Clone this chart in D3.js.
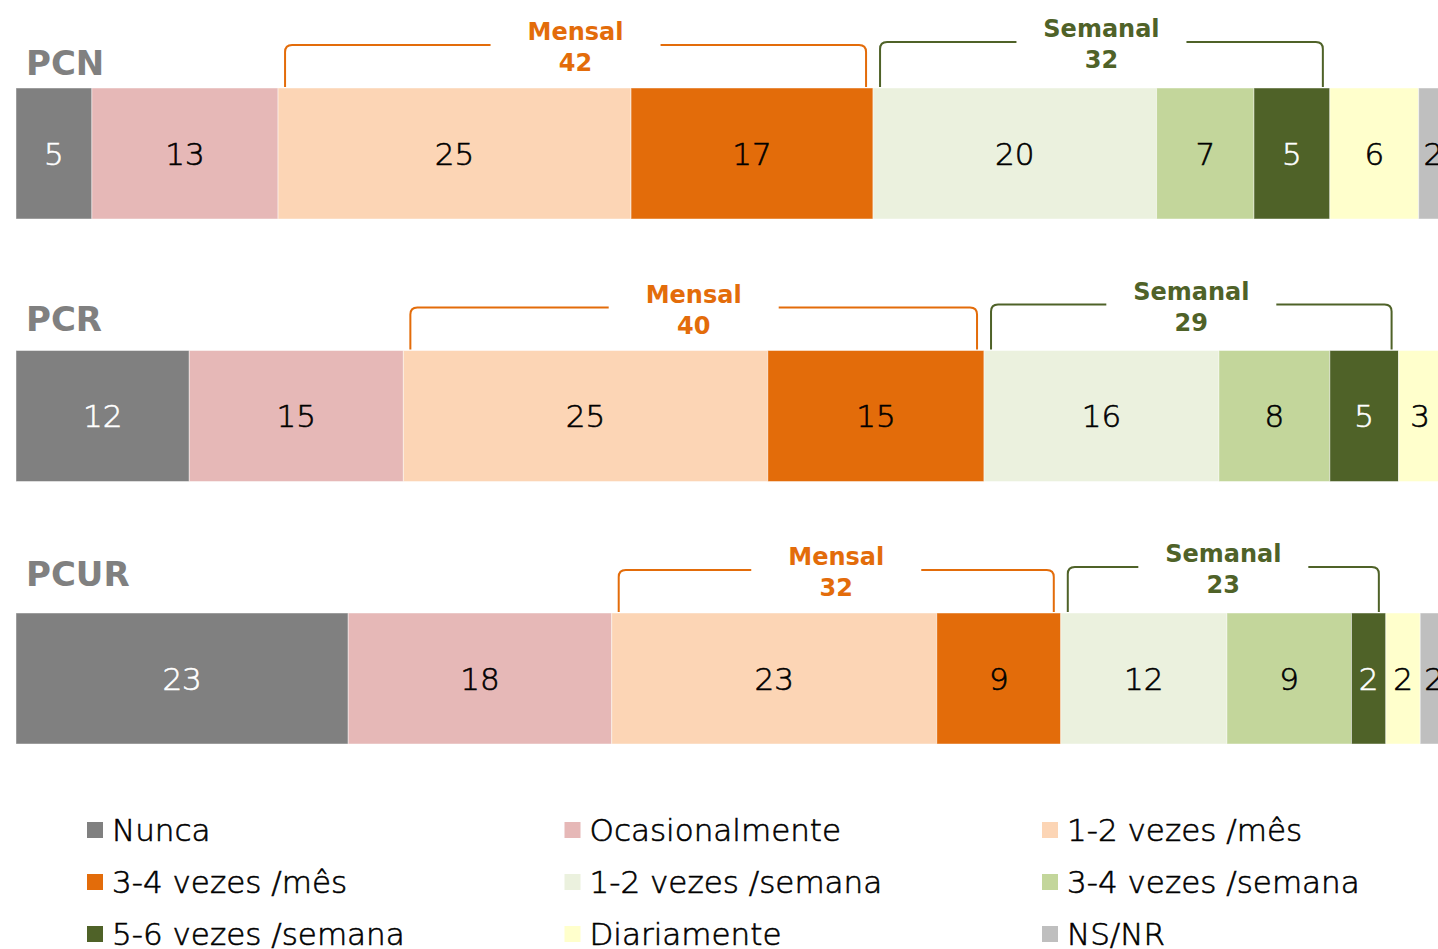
<!DOCTYPE html>
<html>
<head>
<meta charset="utf-8">
<script src="https://cdn.jsdelivr.net/npm/d3@7"></script>
<style>
  body { margin: 0; background: #fff; }
  svg { display: block; font-family: "DejaVu Sans", sans-serif; }
  .thin { font-weight: 300; stroke-width: 0.6px; }
</style>
</head>
<body>
<svg width="1438" height="949"></svg>
<script>
// categories (stack order) and their colours
var categories = ["Nunca", "Ocasionalmente", "1-2 vezes /mês", "3-4 vezes /mês",
  "1-2 vezes /semana", "3-4 vezes /semana", "5-6 vezes /semana", "Diariamente", "NS/NR"];
var colours = ["#808080", "#E6B8B7", "#FCD5B5", "#E36C0A",
  "#EBF1DE", "#C3D69B", "#4F6228", "#FFFFCC", "#BFBFBF"];

var groups = ["PCN", "PCR", "PCUR"];

// percentages
var pcnValues  = [5.3, 13.0, 24.65, 16.9, 19.8, 6.8, 5.3, 6.2, 2.05];
var pcrValues  = [12.1, 14.95, 25.45, 15.1, 16.4, 7.75, 4.8, 3.0, 0.45];
var pcurValues = [23.2, 18.4, 22.7, 8.66, 11.6, 8.7, 2.4, 2.4, 1.94];

// bracket totals printed above the bars
var mensalTotals  = [42, 40, 32];
var semanalTotals = [32, 29, 23];

var allValues = [pcnValues, pcrValues, pcurValues];

var svg = d3.select("svg"),
    width = +svg.attr("width"),
    height = +svg.attr("height");

var x = d3.scaleLinear().domain([0, 100]).range([16, 1448]);
var y = d3.scaleBand().domain(groups).range([88, 744]).paddingInner(0.501);
// titles sit a little closer together than the bars
var titleY = d3.scalePoint().domain(groups).range([75, 586]);

var rows = groups.map(function(g, i) {
  var acc = 0;
  var segs = allValues[i].map(function(v, j) {
    var s = { group: g, cat: categories[j], idx: j, x0: acc, x1: acc + v, value: v };
    acc += v;
    return s;
  });
  return { group: g, segs: segs, i: i };
});

var darkText = { 0: true, 6: true };

var row = svg.selectAll(".row")
  .data(rows)
  .enter().append("g")
  .attr("class", "row");

// group titles
row.append("text")
  .attr("x", 26)
  .attr("y", d => titleY(d.group))
  .attr("fill", "#808080")
  .style("font-weight", "bold")
  .style("font-size", "34px")
  .text(d => d.group);

// stacked segments
row.selectAll("rect.seg")
  .data(d => d.segs)
  .enter().append("rect")
  .attr("class", "seg")
  .attr("x", d => x(d.x0))
  .attr("y", d => y(d.group))
  .attr("width", d => x(d.x1) - x(d.x0))
  .attr("height", y.bandwidth())
  .attr("fill", d => colours[d.idx])
  .attr("stroke", "#fff")
  .attr("stroke-opacity", 0.45)
  .attr("stroke-width", 1);

row.selectAll("text.val")
  .data(d => d.segs.filter(s => s.value >= 0.5))
  .enter().append("text")
  .attr("class", "val thin")
  .attr("x", d => (x(d.x0) + x(d.x1)) / 2)
  .attr("y", d => y(d.group) + y.bandwidth() / 2)
  .attr("dy", "0.36em")
  .attr("text-anchor", "middle")
  .style("font-size", "31px")
  .attr("fill", d => darkText[d.idx] ? "#fff" : "#000")
  .attr("stroke", d => darkText[d.idx] ? "#fff" : "#000")
  .text(d => d3.format(".0f")(d.value));

// brackets for Mensal (cats 2-3) and Semanal (cats 4-6)
var brackets = [];
rows.forEach(function(r) {
  brackets.push({ group: r.group, name: "Mensal", total: mensalTotals[r.i],
    from: r.segs[2].x0, to: r.segs[3].x1, colour: "#E36C0A", rise: 43 });
  brackets.push({ group: r.group, name: "Semanal", total: semanalTotals[r.i],
    from: r.segs[4].x0, to: r.segs[6].x1, colour: "#4F6228", rise: 46 });
});

function bracketPath(d) {
  var l = x(d.from) + 7, rgt = x(d.to) - 7,
      top = y(d.group) - d.rise, bot = y(d.group) - 1, r = 7;
  return "M" + l + "," + bot + " L" + l + "," + (top + r) +
    " Q" + l + "," + top + " " + (l + r) + "," + top +
    " L" + (rgt - r) + "," + top +
    " Q" + rgt + "," + top + " " + rgt + "," + (top + r) +
    " L" + rgt + "," + bot;
}

var br = svg.selectAll(".bracket")
  .data(brackets)
  .enter().append("g")
  .attr("class", "bracket");

br.append("path")
  .attr("d", bracketPath)
  .attr("fill", "none")
  .attr("stroke", d => d.colour)
  .attr("stroke-width", 2);

br.append("rect")
  .attr("x", d => (x(d.from) + x(d.to)) / 2 - 85)
  .attr("y", d => y(d.group) - d.rise - 36)
  .attr("width", 170)
  .attr("height", 76)
  .attr("fill", "#fff");

br.append("text")
  .attr("x", d => (x(d.from) + x(d.to)) / 2)
  .attr("y", d => y(d.group) - d.rise - 5)
  .attr("text-anchor", "middle")
  .attr("fill", d => d.colour)
  .style("font-weight", "bold")
  .style("font-size", "24px")
  .text(d => d.name);

br.append("text")
  .attr("x", d => (x(d.from) + x(d.to)) / 2)
  .attr("y", d => y(d.group) - d.rise + 26)
  .attr("text-anchor", "middle")
  .attr("fill", d => d.colour)
  .style("font-weight", "bold")
  .style("font-size", "24px")
  .text(d => d.total);

// legend, 3 columns
var legendX = d3.scalePoint().domain([0, 1, 2]).range([87, 1042]);
var legendY = d3.scalePoint().domain([0, 1, 2]).range([830, 934]);

var leg = svg.selectAll(".leg")
  .data(categories)
  .enter().append("g")
  .attr("class", "leg")
  .attr("transform", (d, i) => "translate(" + legendX(i % 3) + "," + legendY(Math.floor(i / 3)) + ")");

leg.append("rect")
  .attr("x", 0)
  .attr("y", -8)
  .attr("width", 16)
  .attr("height", 16)
  .attr("fill", (d, i) => colours[i]);

leg.append("text")
  .attr("class", "thin")
  .attr("x", 25)
  .attr("y", 0)
  .attr("dy", "0.36em")
  .style("font-size", "31px")
  .attr("fill", "#000")
  .attr("stroke", "#000")
  .text(d => d);
</script>
</body>
</html>
